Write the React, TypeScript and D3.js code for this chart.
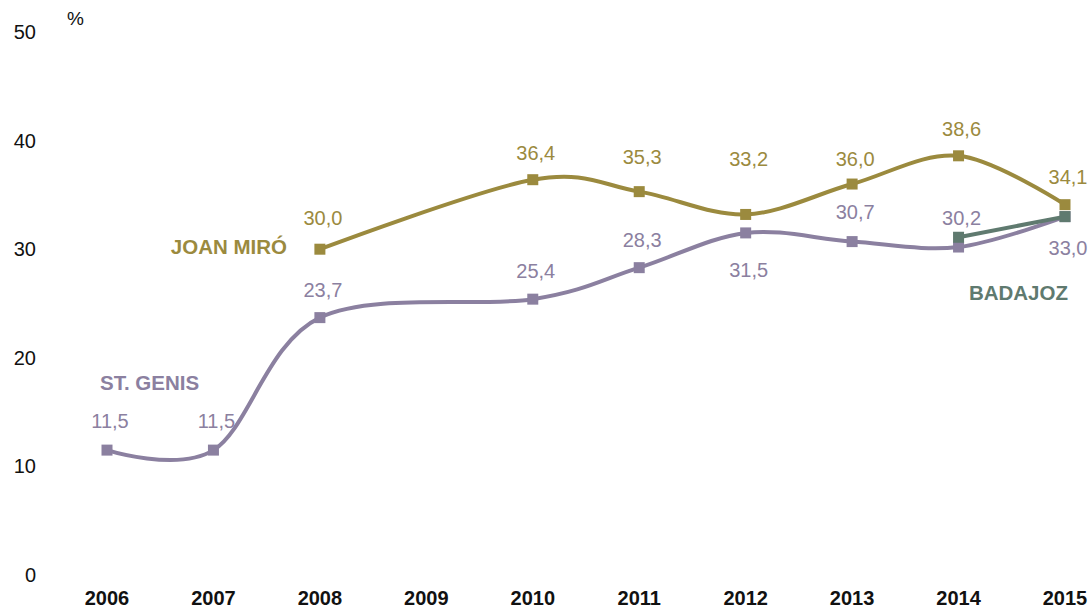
import React from "react";
import * as d3 from "d3";

const years = [2006, 2007, 2008, 2009, 2010, 2011, 2012, 2013, 2014, 2015];
const yTicks = [0, 10, 20, 30, 40, 50];

const stGenis: (number | null)[] = [11.5, 11.5, 23.7, null, 25.4, 28.3, 31.5, 30.7, 30.2, 33.0];
const joanMiro: (number | null)[] = [null, null, 30.0, null, 36.4, 35.3, 33.2, 36.0, 38.6, 34.1];
const badajoz: (number | null)[] = [null, null, null, null, null, null, null, null, 31.1, 33.0];

// label vertical offsets (px, label centre relative to point) — styling only
const stGenisLabelDy = [-29, -29, -28, 0, -28, -28, 37, -30, -29, 31];
const joanMiroLabelDy = [0, 0, -31, 0, -27, -35, -55, -25, -27, -28];

const W = 1091;
const H = 608;
const FONT = "'Liberation Sans', Arial, sans-serif";

const GOLD = "#9b8a3e";
const PURPLE = "#8b80a0";
const GREEN = "#5f7a6f";

const x = d3.scaleLinear().domain([2006, 2015]).range([107, 1065]);
const y = d3.scaleLinear().domain([0, 50]).range([575, 32]);

type Pt = { year: number; v: number; i: number };
const toPts = (arr: (number | null)[]): Pt[] =>
  arr
    .map((v, i) => ({ year: years[i], v: v as number, i }))
    .filter((p) => p.v !== null && p.v !== undefined);

const line = d3
  .line<Pt>()
  .x((d) => x(d.year))
  .y((d) => y(d.v))
  .curve(d3.curveCatmullRom.alpha(0));

const fmt = (v: number) => v.toFixed(1).replace(".", ",");

function Series({
  data,
  color,
  labelDy,
}: {
  data: (number | null)[];
  color: string;
  labelDy?: number[];
}) {
  const pts = toPts(data);
  return (
    <g>
      <path d={line(pts) || ""} fill="none" stroke={color} strokeWidth={4} />
      {pts.map((p) => (
        <rect
          key={p.i}
          x={x(p.year) - 5.5}
          y={y(p.v) - 5.5}
          width={11}
          height={11}
          fill={color}
        />
      ))}
      {labelDy &&
        pts.map((p) => (
          <text
            key={"l" + p.i}
            x={x(p.year) + 3}
            y={y(p.v) + labelDy[p.i]}
            dy="0.35em"
            textAnchor="middle"
            fontSize={20}
            fill={color}
            fontFamily={FONT}
          >
            {fmt(p.v)}
          </text>
        ))}
    </g>
  );
}

export default function App() {
  return (
    <svg
      width={W}
      height={H}
      style={{ position: "absolute", left: 0, top: 0, background: "#fff" }}
    >
      {yTicks.map((t) => (
        <text
          key={t}
          x={36}
          y={y(t)}
          dy="0.35em"
          textAnchor="end"
          fontSize={20}
          fontFamily={FONT}
          fill="#111"
        >
          {t}
        </text>
      ))}
      <text x={67} y={18} dy="0.35em" fontSize={19} fontFamily={FONT} fill="#111">
        %
      </text>
      {years.map((yr) => (
        <text
          key={yr}
          x={x(yr)}
          y={598}
          dy="0.35em"
          textAnchor="middle"
          fontSize={20}
          fontWeight="bold"
          fontFamily={FONT}
          fill="#111"
        >
          {yr}
        </text>
      ))}

      <Series data={stGenis} color={PURPLE} labelDy={stGenisLabelDy} />
      <Series data={joanMiro} color={GOLD} labelDy={joanMiroLabelDy} />
      <Series data={badajoz} color={GREEN} />

      <text x={287} y={247} dy="0.35em" textAnchor="end" fontSize={20.5} fontWeight="bold" fontFamily={FONT} fill={GOLD}>
        JOAN MIRÓ
      </text>
      <text x={100} y={383} dy="0.35em" fontSize={20.5} fontWeight="bold" fontFamily={FONT} fill={PURPLE}>
        ST. GENIS
      </text>
      <text x={1068} y={293} dy="0.35em" textAnchor="end" fontSize={20.5} fontWeight="bold" fontFamily={FONT} fill={GREEN}>
        BADAJOZ
      </text>
    </svg>
  );
}
